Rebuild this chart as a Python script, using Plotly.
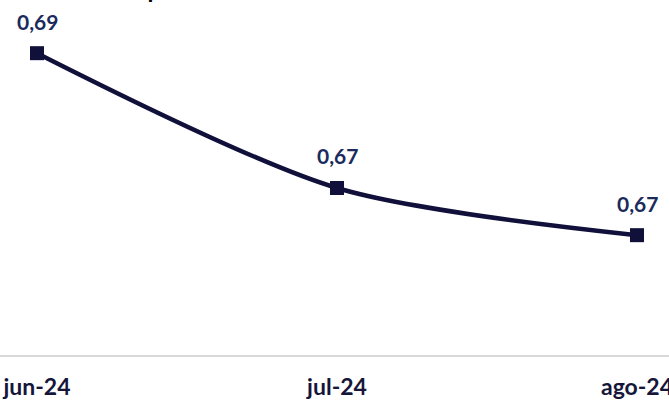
import plotly.graph_objects as go

categories = ["jun-24", "jul-24", "ago-24"]
values = [0.692, 0.674, 0.6677]
title_text = "Índice de la pobreza"

line_color = "#10103a"
label_color = "#1b2a5c"

fig = go.Figure()
fig.add_trace(go.Scatter(
    x=list(range(len(categories))),
    y=values,
    mode="lines+markers",
    line=dict(color=line_color, width=4.5, shape="spline", smoothing=0.8),
    marker=dict(symbol="square", size=14, color=line_color),
    hoverinfo="skip",
    showlegend=False,
))

for i, v in enumerate(values):
    fig.add_annotation(
        x=i, y=v, xref="x", yref="y",
        text="<b>" + f"{v:.2f}".replace(".", ",") + "</b>",
        showarrow=False, yshift=32,
        font=dict(family="Lato", size=21, color=label_color),
    )

fig.add_annotation(
    x=0, y=1, xref="paper", yref="paper", xanchor="left", yanchor="bottom",
    text="<b>" + title_text + "</b>", showarrow=False, yshift=-5, xshift=19,
    font=dict(family="Lato", size=24, color="#000000"),
)

fig.update_layout(
    width=669, height=400,
    margin=dict(l=0, r=0, t=0, b=45),
    paper_bgcolor="white", plot_bgcolor="white",
    xaxis=dict(
        range=[-37 / 300, 2 + 32 / 300],
        tickvals=list(range(len(categories))),
        ticktext=["<b>" + c + "</b>" for c in categories],
        showgrid=False, zeroline=False,
        showline=True, linecolor="#d9d9d9", linewidth=2,
        ticks="outside", ticklen=10, tickcolor="rgba(0,0,0,0)",
        tickfont=dict(family="Lato", size=23, color="#15163a"),
        ticklabeloverflow="allow",
        automargin=False,
    ),
    yaxis=dict(
        range=[0.6517, 0.6991], visible=False, showgrid=False, zeroline=False,
    ),
)

fig.write_html(
    "out.html",
    config={"displayModeBar": False},
    post_script="document.body.style.margin='0';document.body.style.overflow='hidden';",
)
